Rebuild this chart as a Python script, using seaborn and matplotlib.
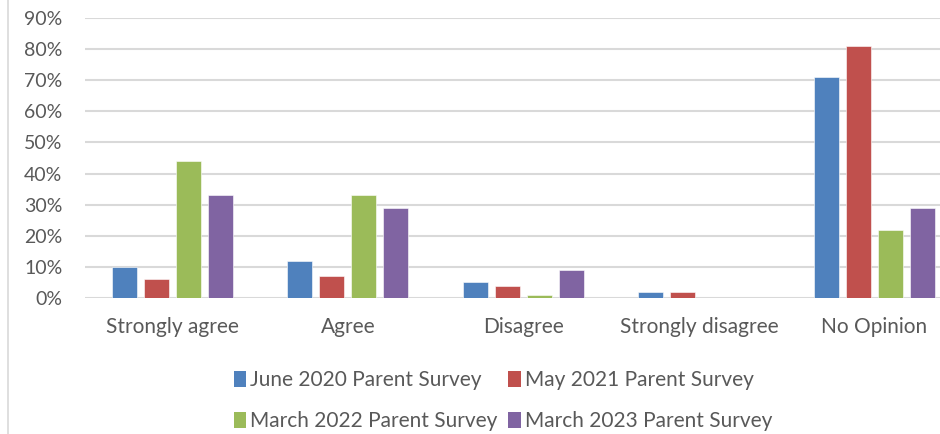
import numpy as np
import pandas as pd
import matplotlib
matplotlib.use("Agg")
import matplotlib.pyplot as plt
import seaborn as sns
from matplotlib.lines import Line2D
from matplotlib.patches import Patch

categories = ["Strongly agree", "Agree", "Disagree", "Strongly disagree", "No Opinion"]
surveys = ["June 2020 Parent Survey", "May 2021 Parent Survey",
           "March 2022 Parent Survey", "March 2023 Parent Survey"]
june_2020 = [10, 12, 5, 2, 71]
may_2021 = [6, 7, 4, 2, 81]
march_2022 = [44, 33, 1, 0, 22]
march_2023 = [33, 29, 9, 0, 29]
colors = ["#4F81BD", "#C0504D", "#9BBB59", "#8064A2"]

rows = []
for name, vals in zip(surveys, [june_2020, may_2021, march_2022, march_2023]):
    for cat, v in zip(categories, vals):
        rows.append({"category": cat, "survey": name, "value": v / 100})
df = pd.DataFrame(rows)

sns.set_theme(style="white")
plt.rcParams["font.family"] = ["Lato", "DejaVu Sans"]
text_color = "#595959"

fig = plt.figure(figsize=(9.4, 4.34), dpi=100)
ax = fig.add_axes([84.6 / 940, 1 - 298 / 434, 877.5 / 940, 280 / 434])

sns.barplot(data=df, x="category", y="value", hue="survey", order=categories,
            hue_order=surveys, palette=colors, width=0.73, gap=0.22,
            saturation=1, ax=ax, legend=False, edgecolor="white", linewidth=0.4)

ax.set_ylim(0, 0.9)
ax.set_xlim(-0.5, 4.5)
ax.set_yticks(np.arange(0, 0.91, 0.1))
ax.set_yticklabels([f"{int(round(t * 100))}%" for t in np.arange(0, 0.91, 0.1)])
ax.yaxis.grid(True, color="#d9d9d9", linewidth=1.5)
ax.set_axisbelow(True)
for s in ax.spines.values():
    s.set_visible(False)
ax.set_xlabel("")
ax.set_ylabel("")
ax.tick_params(axis="y", length=0, pad=16, labelsize=14, labelcolor=text_color)
ax.tick_params(axis="x", length=0, pad=14, labelsize=15, labelcolor=text_color)

# left border of the chart area
fig.add_artist(Line2D([8 / 940, 8 / 940], [0, 1], color="#d9d9d9", lw=1.2,
                      transform=fig.transFigure))

# legend filled row by row (matplotlib fills columns first)
order = [0, 2, 1, 3]
handles = [Patch(facecolor=colors[i], edgecolor="none") for i in order]
labels = [surveys[i] for i in order]
fig.legend(handles, labels, loc="upper center", bbox_to_anchor=(503 / 940, 1 - 360 / 434),
           ncol=2, frameon=False, fontsize=15, labelcolor=text_color,
           handlelength=0.6, handleheight=0.8, handletextpad=0.2,
           columnspacing=0.5, labelspacing=1.0, borderpad=0)

fig.savefig("out.png", dpi=100)
